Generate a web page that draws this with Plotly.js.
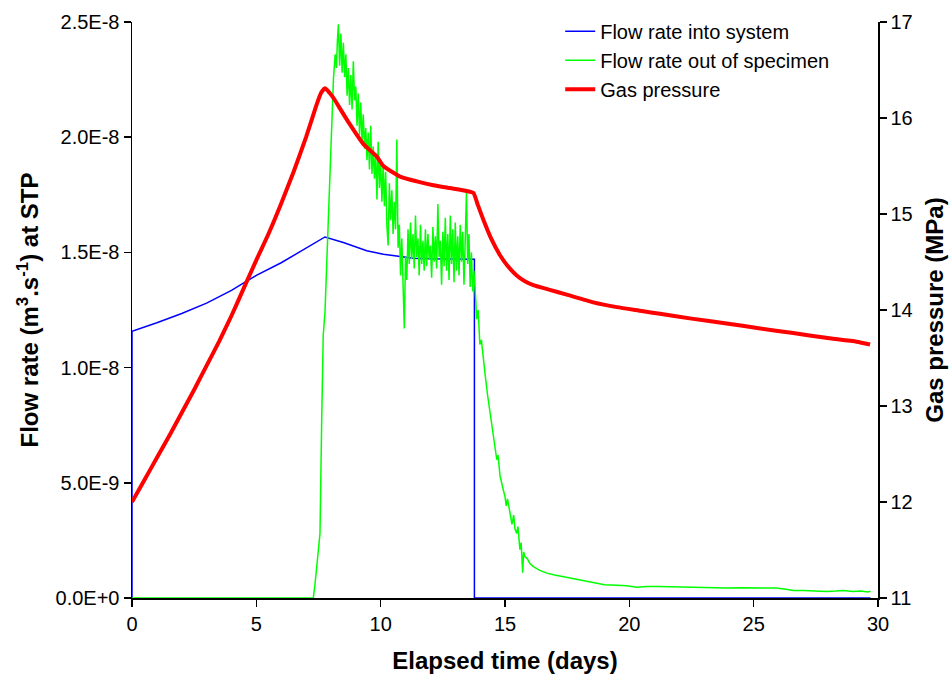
<!DOCTYPE html>
<html>
<head>
<meta charset="utf-8">
<script src="https://cdn.plot.ly/plotly-3.0.1.min.js"></script>
<style>html,body{margin:0;padding:0;background:#fff;}#chart{width:952px;height:681px;}</style>
</head>
<body>
<div id="chart"></div>
<script>
// ---- Data (flow in units of 1E-8 m3/s, pressure in MPa, time in days) ----
var inTime = [0, 0, 1, 2, 3, 4, 4.61, 5, 6, 6.76, 7.3, 7.76, 8.5, 9.44, 10.11, 10.78, 11.31, 12.0, 12.79, 13.5, 13.77, 13.77, 29.7];
var inFlow = [0, 1.158, 1.195, 1.235, 1.28, 1.335, 1.375, 1.40, 1.455, 1.505, 1.54, 1.567, 1.543, 1.507, 1.492, 1.481, 1.475, 1.472, 1.471, 1.47, 1.47, 0, 0];

var outTime = [0, 7.29, 7.35, 7.45, 7.56, 7.63, 7.69, 7.76, 7.83, 7.90, 7.97, 8.03, 8.10, 8.17, 8.22, 8.26, 8.30,
  8.35, 8.40, 8.45, 8.50, 8.55, 8.60, 8.65, 8.70, 8.75, 8.80, 8.85, 8.90, 8.95, 9.00, 9.05, 9.10, 9.15, 9.20, 9.25, 9.30,
  9.35, 9.40, 9.45, 9.50, 9.55, 9.60, 9.65, 9.70, 9.75, 9.80, 9.85, 9.90, 9.95, 10.00, 10.05, 10.10, 10.15, 10.20, 10.25, 10.30,
  10.35, 10.40, 10.45, 10.50, 10.55, 10.60, 10.65, 10.70, 10.75, 10.80, 10.85, 10.90, 10.95, 11.00, 11.05, 11.10, 11.15, 11.20,
  11.25, 11.30, 11.35, 11.40, 11.45, 11.50, 11.55, 11.60, 11.65, 11.70, 11.75, 11.80, 11.85, 11.90, 11.95, 12.00, 12.05, 12.10,
  12.15, 12.20, 12.25, 12.30, 12.35, 12.40, 12.45, 12.50, 12.55, 12.60, 12.65, 12.70, 12.75, 12.80, 12.85, 12.90, 12.95, 13.00,
  13.05, 13.10, 13.15, 13.20, 13.25, 13.30, 13.35, 13.40, 13.45, 13.50, 13.55, 13.60, 13.65, 13.70, 13.75,
  13.82, 13.86, 13.92, 13.99, 14.05, 14.13, 14.20, 14.30, 14.40, 14.50, 14.60, 14.67, 14.72, 14.80, 14.93, 15.00, 15.05, 15.10,
  15.20, 15.28, 15.35, 15.40, 15.47, 15.52, 15.60, 15.65, 15.71, 15.75, 15.80, 15.90, 16.00, 16.14, 16.40, 16.68, 17.00, 17.35,
  17.70, 18.02, 18.35, 18.69, 19.00, 19.50, 19.89, 20.30, 20.70, 21.20, 21.80, 22.57, 23.20, 23.91, 24.50, 25.00, 25.50, 25.92,
  26.30, 26.59, 27.00, 27.50, 27.94, 28.30, 28.60, 29.00, 29.30, 29.60, 29.70];
var outFlow = [0, 0, 0.05, 0.15, 0.28, 0.78, 1.14, 1.24, 1.45, 1.67, 1.95, 2.13, 2.25, 2.36, 2.30, 2.42, 2.49,
  2.31, 2.45, 2.28, 2.41, 2.26, 2.36, 2.18, 2.30, 2.14, 2.27, 2.12, 2.33, 2.16, 2.22, 2.05, 2.19, 2.01, 2.15, 1.98, 2.10,
  1.95, 2.04, 1.90, 2.02, 1.86, 2.05, 1.84, 1.96, 1.82, 1.93, 1.73, 1.98, 1.78, 1.90, 1.72, 1.88, 1.70, 1.85, 1.62, 1.53,
  1.80, 1.64, 1.77, 1.58, 1.72, 1.60, 1.99, 1.52, 1.62, 1.40, 1.56, 1.30, 1.17, 1.48, 1.38, 1.60, 1.45, 1.63,
  1.47, 1.58, 1.43, 1.66, 1.48, 1.56, 1.40, 1.62, 1.45, 1.55, 1.42, 1.60, 1.44, 1.58, 1.47, 1.53, 1.39, 1.61,
  1.46, 1.57, 1.43, 1.71, 1.48, 1.55, 1.36, 1.59, 1.44, 1.65, 1.42, 1.58, 1.38, 1.66, 1.45, 1.60, 1.37, 1.63,
  1.42, 1.57, 1.40, 1.62, 1.46, 1.59, 1.36, 1.55, 1.76, 1.45, 1.58, 1.35, 1.50, 1.33, 1.42,
  1.30, 1.21, 1.25, 1.10, 1.12, 1.03, 0.97, 0.88, 0.81, 0.73, 0.65, 0.60, 0.62, 0.53, 0.47, 0.44, 0.40, 0.43,
  0.37, 0.32, 0.36, 0.30, 0.28, 0.31, 0.21, 0.24, 0.11, 0.20, 0.18, 0.17, 0.15, 0.136, 0.12, 0.108, 0.10, 0.093,
  0.085, 0.079, 0.070, 0.063, 0.058, 0.055, 0.053, 0.047, 0.050, 0.050, 0.048, 0.047, 0.045, 0.043, 0.045, 0.044, 0.045, 0.043,
  0.038, 0.033, 0.033, 0.030, 0.028, 0.030, 0.033, 0.028, 0.030, 0.026, 0.030];

var pTime = [0, 0.5, 1.0, 1.5, 2.0, 2.5, 3.0, 3.5, 4.0, 4.5, 5.0, 5.5, 6.0, 6.5, 7.0, 7.4, 7.6, 7.76, 7.95, 8.15, 8.36, 8.77, 9.30, 9.84, 10.11,
  10.78, 11.45, 12.12, 12.79, 13.46, 13.73, 13.9, 14.13, 14.45, 14.80, 15.1, 15.47, 15.8, 16.14, 16.8, 17.48, 18.55, 19.5, 20.5, 21.23,
  22.5, 23.91, 25.2, 26.59, 27.9, 29.14, 29.68];
var pressure = [12.0, 12.23, 12.46, 12.69, 12.93, 13.17, 13.42, 13.67, 13.94, 14.23, 14.52, 14.80, 15.11, 15.44, 15.80, 16.12, 16.26, 16.31, 16.26, 16.19, 16.10, 15.93, 15.73, 15.60, 15.50,
  15.39, 15.34, 15.30, 15.27, 15.24, 15.22, 15.1, 14.94, 14.74, 14.57, 14.46, 14.36, 14.30, 14.26, 14.21, 14.16, 14.08, 14.03, 13.99, 13.96,
  13.91, 13.86, 13.81, 13.76, 13.71, 13.67, 13.64];

var flowTickVals = [0, 0.5, 1.0, 1.5, 2.0, 2.5];
var flowTickText = ["0.0E+0", "5.0E-9", "1.0E-8", "1.5E-8", "2.0E-8", "2.5E-8"];
var timeTicks = [0, 5, 10, 15, 20, 25, 30];
var pressTicks = [11, 12, 13, 14, 15, 16, 17];

var seriesNames = ["Flow rate into system", "Flow rate out of specimen", "Gas pressure"];

var FONT = "Liberation Sans, Arial, sans-serif";

var traces = [
  {x: inTime, y: inFlow, name: seriesNames[0], type: "scatter", mode: "lines",
   line: {color: "#0000FF", width: 1.5}, yaxis: "y"},
  {x: outTime, y: outFlow, name: seriesNames[1], type: "scatter", mode: "lines",
   line: {color: "#00FF00", width: 1.5}, yaxis: "y"},
  {x: pTime, y: pressure, name: seriesNames[2], type: "scatter", mode: "lines",
   line: {color: "#FF0000", width: 4, shape: "spline", smoothing: 0.5}, yaxis: "y2"}
];

var axisCommon = {
  showgrid: false, zeroline: false, showline: true, linecolor: "#000", linewidth: 1.5,
  ticks: "outside", ticklen: 7, tickwidth: 1.5, tickcolor: "#000",
  tickfont: {family: FONT, size: 20, color: "#000"}, layer: "below traces"
};

var layout = {
  width: 952, height: 681,
  margin: {l: 132, r: 74, t: 18, b: 83},
  paper_bgcolor: "#fff", plot_bgcolor: "#fff",
  showlegend: true,
  legend: {x: 0.574, y: 1.018, xanchor: "left", yanchor: "top", bgcolor: "rgba(0,0,0,0)",
           font: {family: FONT, size: 20, color: "#000"}, tracegroupgap: 0},
  xaxis: Object.assign({}, axisCommon, {
    range: [0, 30], tickvals: timeTicks, ticktext: timeTicks.map(String),
    title: {text: "<b>Elapsed time (days)</b>", font: {family: FONT, size: 24, color: "#000"}, standoff: 18}
  }),
  yaxis: Object.assign({}, axisCommon, {
    range: [0, 2.5], tickvals: flowTickVals, ticktext: flowTickText,
    title: {text: "<b>Flow rate (m<sup>3</sup>.s<sup>-1</sup>) at STP</b>", font: {family: FONT, size: 24, color: "#000"}, standoff: 10}
  }),
  yaxis2: Object.assign({}, axisCommon, {
    range: [11, 17], tickvals: pressTicks, overlaying: "y", side: "right", anchor: "x",
    title: {text: "<b>Gas pressure (MPa)</b>", font: {family: FONT, size: 24, color: "#000"}, standoff: 14}
  })
};

Plotly.newPlot("chart", traces, layout, {displayModeBar: false, staticPlot: true});
</script>
</body>
</html>
